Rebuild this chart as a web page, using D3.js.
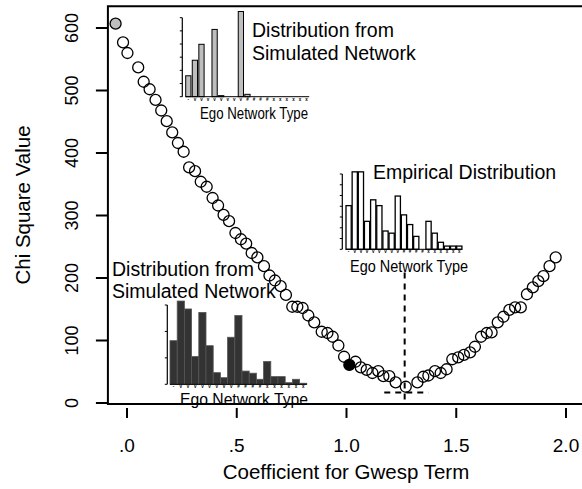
<!DOCTYPE html>
<html><head><meta charset="utf-8">
<script src="https://cdn.jsdelivr.net/npm/d3@7"></script>
<style>body{margin:0;background:#fff}svg{display:block}text{font-family:"Liberation Sans",Arial,sans-serif}</style>
</head><body><svg id="c" width="582" height="489"></svg>
<script>
// ---- main series: gwesp coefficient vs chi-square ----
const coef = [-0.052,-0.018,0.002,0.051,0.076,0.103,0.130,0.156,0.181,0.206,0.232,0.258,0.283,0.310,0.336,0.363,0.390,0.415,0.440,0.465,0.494,0.519,0.543,0.568,0.594,0.624,0.649,0.674,0.700,0.724,0.753,0.776,0.800,0.826,0.853,0.887,0.913,0.937,0.963,0.989,1.013,1.041,1.065,1.092,1.118,1.145,1.168,1.195,1.224,1.270,1.323,1.350,1.373,1.403,1.429,1.456,1.482,1.509,1.535,1.563,1.585,1.613,1.639,1.661,1.689,1.715,1.742,1.768,1.794,1.822,1.849,1.874,1.897,1.925,1.953];
const chisq = [607,577,560,537,514,502,485,468,451,433,416,402,377,371,354,346,328,316,301,291,272,262,255,240,233,219,204,196,187,173,154,154,152,140,129,114,112,106,92,74,61,66,57,53,48,51,43,43,33,26,33,42,44,51,48,54,70,73,77,81,90,106,112,113,129,138,149,153,153,174,185,195,203,219,233];
const grayIdx = 0, blackIdx = 40;
const xTicks = [0, 0.5, 1, 1.5, 2];
const xTickLabels = [".0", ".5", "1.0", "1.5", "2.0"];
const yTicks = [0, 100, 200, 300, 400, 500, 600];
const estimateX = 1.265, estimateTop = 209;
const ciLow = 1.172, ciHigh = 1.373, ciY = 17;

// ---- inset distributions (19 ego network types) ----
const egoTypes = d3.range(1, 20);
const egoTypeLabels = ["-","v","v","v","v","v","v","v","v","#","#","#","#","x","x","x","x","x","x"];
const simTopValues = [1.59,2.77,3.98,0,5.11,0.08,0,0,6.47,0.18,0,0,0,0,0,0,0,0,0];
const empValues    = [4.06,7.2,7.2,2.6,4.6,4.06,1.7,1.5,4.95,3.2,2.3,1.2,0,2.6,1.5,0.65,0.3,0.3,0.3];
const simLowValues = [1.65,3.15,2.85,1.05,2.72,1.46,0.44,0.25,1.78,2.6,0.5,0.42,0.19,0.86,0.29,0.29,0.06,0.19,0.04];

const svg = d3.select("#c");
svg.append("rect").attr("width",582).attr("height",489).attr("fill","#fff");

const x = d3.scaleLinear().domain([0, 2]).range([127, 566]);
const y = d3.scaleLinear().domain([0, 600]).range([403, 28]);

// plot box (left, top, bottom; right edge lies off-canvas)
const bx0 = x(-0.087), by0 = y(635), by1 = y(-1.5);
svg.append("path").attr("d", `M${x(2.2)},${by0}H${bx0}V${by1}H${x(2.2)}`)
  .attr("fill","none").attr("stroke","#000").attr("stroke-width",2);

// y axis ticks & labels
const ya = svg.append("g");
yTicks.forEach(t => {
  ya.append("line").attr("x1", bx0-12).attr("x2", bx0).attr("y1", y(t)).attr("y2", y(t)).attr("stroke","#000").attr("stroke-width",2);
  ya.append("text").attr("transform",`translate(78,${y(t)}) rotate(-90)`).attr("text-anchor","middle")
    .attr("font-size",18).text(t);
});
// x axis ticks & labels
xTicks.forEach((t,i) => {
  svg.append("line").attr("x1", x(t)).attr("x2", x(t)).attr("y1", by1+4).attr("y2", by1+14).attr("stroke","#000").attr("stroke-width",2);
  svg.append("text").attr("x", x(t)).attr("y", 452).attr("text-anchor","middle").attr("font-size",19).text(xTickLabels[i]);
});
svg.append("text").attr("x", 346).attr("y", 479).attr("text-anchor","middle").attr("font-size",20.5).text("Coefficient for Gwesp Term");
svg.append("text").attr("transform","translate(30,205) rotate(-90)").attr("text-anchor","middle").attr("font-size",20.5).text("Chi Square Value");

// ---- inset bar chart helper ----
function inset(o) {
  const g = svg.append("g");
  const yy = d3.scaleLinear().domain([0, o.nTicks]).range([o.base, o.top]);
  const xx = d3.scaleBand().domain(egoTypes).range([o.left, o.left + o.pitch*egoTypes.length]).paddingInner(o.pad).paddingOuter(0);
  g.append("line").attr("x1",o.axisX).attr("x2",o.axisX).attr("y1",yy(0)).attr("y2",yy(o.nTicks)).attr("stroke","#000").attr("stroke-width",1.2);
  d3.range(0, o.nTicks+1).forEach(t => g.append("line").attr("x1",o.axisX-2.5).attr("x2",o.axisX).attr("y1",yy(t)).attr("y2",yy(t)).attr("stroke","#000").attr("stroke-width",1));
  g.selectAll("rect.b").data(o.values).join("rect")
    .attr("x",(d,i)=>xx(egoTypes[i])).attr("width",xx.bandwidth())
    .attr("y",d=>yy(d)).attr("height",d=>yy(0)-yy(d))
    .attr("fill",o.fill).attr("stroke",o.stroke).attr("stroke-width",o.sw);
  g.append("line").attr("x1",o.left).attr("x2",o.left+o.pitch*egoTypes.length).attr("y1",yy(0)).attr("y2",yy(0)).attr("stroke","#000").attr("stroke-width",1);
  egoTypeLabels.forEach((l,i)=> g.append("text").attr("x",xx(egoTypes[i])+xx.bandwidth()/2).attr("y",yy(0)+4)
     .attr("text-anchor","middle").attr("font-size",4.5).attr("font-weight","bold").attr("font-family","DejaVu Sans").text(l));
  g.append("text").attr("x",o.labX).attr("y",o.labY).attr("text-anchor","middle").attr("font-size",o.labSize)
     .attr("textLength",o.labW).attr("lengthAdjust","spacingAndGlyphs").text("Ego Network Type");
}
inset({values: simTopValues, axisX:182.3, top:17.7, base:96.7, nTicks:6, left:185.7, pitch:6.5, pad:0.2,
  fill:"#bebebe", stroke:"#000", sw:1, labX:254, labY:118.5, labSize:16, labW:108});
inset({values: empValues, axisX:342.3, top:174, base:249.3, nTicks:7, left:346, pitch:6.1, pad:0.15,
  fill:"#fff", stroke:"#000", sw:1.3, labX:409, labY:271.5, labSize:16.5, labW:118});
inset({values: simLowValues, axisX:167.3, top:305, base:384.3, nTicks:3, left:170, pitch:7.2, pad:0,
  fill:"#333", stroke:"#555", sw:0.8, labX:244, labY:404.5, labSize:16, labW:128});

// annotations
function ann(x0, yb, lines) { lines.forEach((l,i)=> svg.append("text").attr("x",x0).attr("y",yb+i*22.5).attr("font-size",19.5).text(l)); }
ann(252, 37, ["Distribution from","Simulated Network"]);
ann(373, 179, ["Empirical Distribution"]);
ann(112, 275.5, ["Distribution from","Simulated Network"]);

// dashed reference lines
svg.append("line").attr("x1",x(estimateX)).attr("x2",x(estimateX)).attr("y1",y(estimateTop)).attr("y2",by1)
  .attr("stroke","#000").attr("stroke-width",2).attr("stroke-dasharray","6,5");
svg.append("line").attr("x1",x(ciLow)).attr("x2",x(ciHigh)).attr("y1",y(ciY)).attr("y2",y(ciY))
  .attr("stroke","#000").attr("stroke-width",2).attr("stroke-dasharray","6,5");

// points
svg.append("g").selectAll("circle").data(coef).join("circle")
  .attr("cx",d=>x(d)).attr("cy",(d,i)=>y(chisq[i])).attr("r",5.5)
  .attr("fill",(d,i)=> i===grayIdx ? "#bebebe" : i===blackIdx ? "#000" : "none")
  .attr("stroke","#000").attr("stroke-width",1.3);
</script></body></html>
